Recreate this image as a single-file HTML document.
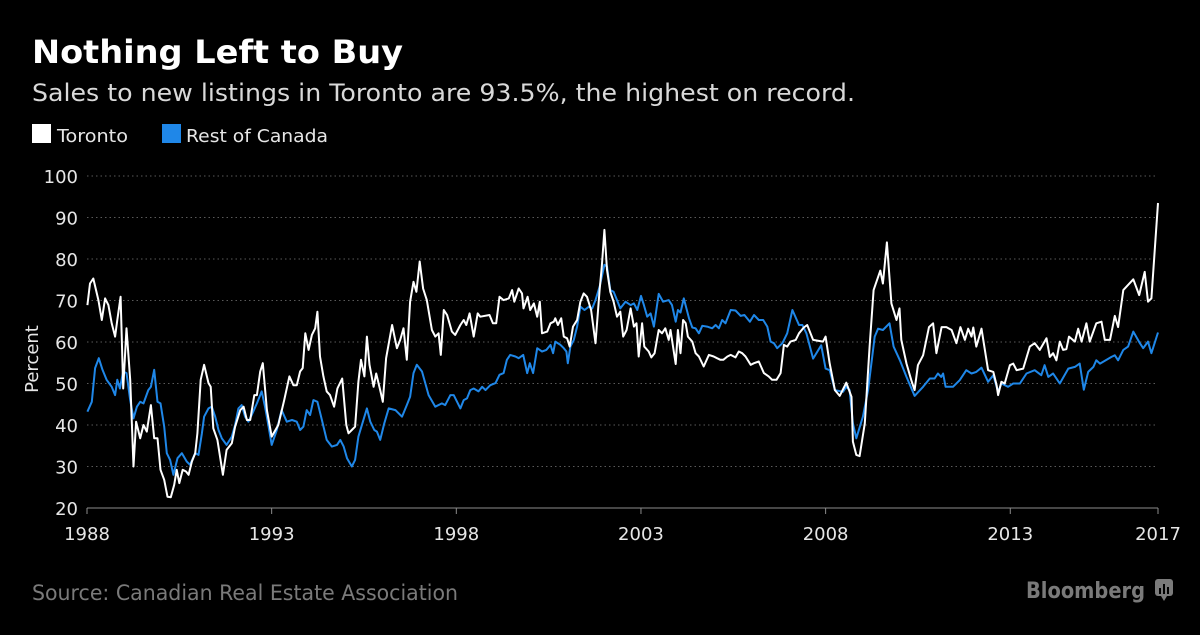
<!DOCTYPE html>
<html><head><meta charset="utf-8"><style>
html,body{margin:0;padding:0;background:#000;}
svg{display:block;}
text{font-family:"DejaVu Sans","Liberation Sans",sans-serif;}
</style></head><body>
<svg id="chart" width="1200" height="635" viewBox="0 0 1200 635" xmlns="http://www.w3.org/2000/svg">
<rect width="1200" height="635" fill="#000"/>
<text x="32" y="63" fill="#fff" font-size="32" font-weight="bold" textLength="371" lengthAdjust="spacingAndGlyphs">Nothing Left to Buy</text>
<text x="32" y="101" fill="#d9d9d9" font-size="24" textLength="823" lengthAdjust="spacingAndGlyphs">Sales to new listings in Toronto are 93.5%, the highest on record.</text>
<g>
<g>
<rect x="32" y="124" width="19" height="19" fill="#fff"/>
<text x="57" y="142" fill="#e6e6e6" font-size="18" textLength="71" lengthAdjust="spacingAndGlyphs">Toronto</text>
</g>
<g>
<rect x="162" y="124" width="19" height="19" fill="#1f87e8"/>
<text x="186" y="142" fill="#e6e6e6" font-size="18" textLength="142" lengthAdjust="spacingAndGlyphs">Rest of Canada</text>
</g>
</g>
<g id="grid"></g>
<g id="yaxis"></g>
<g id="xaxis"></g>
<text transform="translate(38,359) rotate(-90)" text-anchor="middle" fill="#e6e6e6" font-size="18">Percent</text>
<g id="series"></g>
<text x="32" y="600" fill="#7a7a7a" font-size="21" textLength="426" lengthAdjust="spacingAndGlyphs">Source: Canadian Real Estate Association</text>
<text x="1026" y="598" fill="#7a7a7a" font-size="22" font-weight="bold" textLength="119" lengthAdjust="spacingAndGlyphs">Bloomberg</text>
<g>
<rect x="1155" y="579" width="18" height="17" rx="3" fill="#7a7a7a"/>
<path d="M1161 596 L1164 601 L1167 596 Z" fill="#7a7a7a"/>
<rect x="1159" y="588" width="2" height="6" fill="#000"/>
<rect x="1163" y="584" width="2" height="10" fill="#000"/>
<rect x="1167" y="587" width="2" height="7" fill="#000"/>
</g>
</svg>
<script>
const yTicks = [20,30,40,50,60,70,80,90,100];
const xTicks = [1988,1993,1998,2003,2008,2013,2017];
const torontoDates = [1988.01,1988.08,1988.17,1988.31,1988.40,1988.49,1988.58,1988.67,1988.76,1988.82,1988.91,1988.98,1989.07,1989.17,1989.26,1989.33,1989.44,1989.53,1989.62,1989.73,1989.82,1989.91,1989.99,1990.09,1990.18,1990.27,1990.36,1990.43,1990.50,1990.59,1990.68,1990.75,1990.84,1990.93,1990.99,1991.08,1991.17,1991.29,1991.35,1991.42,1991.53,1991.68,1991.78,1991.92,1992.01,1992.15,1992.24,1992.33,1992.42,1992.53,1992.60,1992.69,1992.76,1992.87,1993.00,1993.18,1993.34,1993.48,1993.59,1993.68,1993.77,1993.84,1993.91,1994.00,1994.09,1994.18,1994.24,1994.31,1994.40,1994.49,1994.58,1994.69,1994.78,1994.91,1995.02,1995.08,1995.17,1995.26,1995.35,1995.42,1995.51,1995.58,1995.65,1995.76,1995.83,1995.94,1996.01,1996.10,1996.26,1996.39,1996.48,1996.57,1996.66,1996.75,1996.84,1996.92,1997.01,1997.10,1997.20,1997.34,1997.43,1997.52,1997.58,1997.66,1997.75,1997.88,1997.97,1998.11,1998.20,1998.27,1998.36,1998.47,1998.58,1998.65,1998.90,1998.99,1999.08,1999.17,1999.28,1999.42,1999.51,1999.57,1999.69,1999.78,1999.82,1999.93,2000.00,2000.10,2000.19,2000.26,2000.32,2000.46,2000.55,2000.64,2000.68,2000.75,2000.84,2000.91,2001.00,2001.07,2001.16,2001.27,2001.36,2001.45,2001.54,2001.65,2001.77,2001.88,2001.94,2002.01,2002.08,2002.17,2002.26,2002.35,2002.44,2002.52,2002.61,2002.72,2002.81,2002.88,2002.94,2003.03,2003.09,2003.21,2003.28,2003.37,2003.48,2003.57,2003.66,2003.75,2003.80,2003.94,2004.00,2004.07,2004.14,2004.21,2004.27,2004.39,2004.48,2004.57,2004.70,2004.84,2004.97,2005.06,2005.15,2005.23,2005.34,2005.43,2005.56,2005.65,2005.74,2005.83,2005.97,2006.06,2006.19,2006.33,2006.46,2006.55,2006.67,2006.78,2006.87,2006.96,2007.05,2007.19,2007.28,2007.41,2007.50,2007.66,2007.93,2008.00,2008.11,2008.25,2008.38,2008.56,2008.70,2008.74,2008.83,2008.92,2009.06,2009.19,2009.30,2009.48,2009.55,2009.66,2009.78,2009.92,2010.00,2010.05,2010.19,2010.32,2010.41,2010.50,2010.64,2010.80,2010.91,2011.00,2011.14,2011.27,2011.41,2011.54,2011.65,2011.77,2011.86,2011.95,2012.00,2012.08,2012.22,2012.40,2012.54,2012.63,2012.67,2012.76,2012.85,2012.99,2013.08,2013.17,2013.35,2013.53,2013.66,2013.80,2013.98,2014.07,2014.16,2014.25,2014.34,2014.43,2014.52,2014.59,2014.75,2014.84,2014.93,2015.06,2015.15,2015.33,2015.47,2015.56,2015.70,2015.83,2015.92,2016.06,2016.33,2016.49,2016.64,2016.73,2016.82,2017.00];
const torontoValues = [68.9,74.1,75.3,70.1,65.3,70.5,68.9,64.5,61.3,65.3,70.9,48.8,63.3,50.9,30.0,40.8,36.8,40.0,38.4,44.8,36.8,36.8,29.2,26.8,22.7,22.6,25.6,29.2,26.0,29.2,28.8,28.0,31.2,33.2,38.0,50.9,54.5,50.1,49.2,39.2,36.4,28.0,34.0,35.6,39.6,43.6,44.4,41.2,41.2,47.2,47.2,52.9,54.9,43.6,37.2,40.0,46.0,51.7,49.6,49.6,52.9,53.7,62.1,58.1,61.7,63.3,67.3,56.5,51.7,48.1,47.2,44.4,48.8,51.2,40.0,38.0,38.8,39.6,50.4,55.7,51.7,61.3,54.5,49.2,52.4,48.4,45.6,56.1,64.1,58.5,60.5,63.3,55.7,69.7,74.5,72.1,79.4,72.9,70.1,62.9,61.3,62.1,56.9,67.7,66.5,62.5,61.7,64.1,65.3,64.1,66.9,61.3,66.9,66.1,66.5,64.5,64.5,70.9,70.1,70.5,72.5,69.7,72.9,71.7,68.1,70.9,67.7,69.3,66.1,69.7,62.1,62.5,64.5,64.9,65.7,64.1,65.7,61.3,60.9,58.9,63.7,65.3,69.7,71.7,70.9,67.7,59.7,72.5,78.2,87.0,77.4,72.1,69.7,66.1,67.3,61.3,62.9,68.1,63.7,64.5,56.5,64.5,58.9,57.7,56.3,57.3,62.9,62.1,63.3,60.5,62.9,54.7,62.9,57.3,65.3,64.5,61.3,60.1,57.3,56.5,54.1,56.9,56.5,56.1,55.7,55.7,56.5,56.9,56.3,57.7,57.3,56.5,54.5,54.9,55.3,52.5,51.7,50.9,50.9,52.5,59.3,58.9,60.1,60.5,62.1,63.5,64.1,60.5,60.1,61.3,54.8,48.4,47.0,50.2,46.8,36.0,32.8,32.5,40.4,58.9,72.5,77.2,74.1,84.0,69.3,65.3,68.1,60.5,54.8,50.8,48.4,54.4,56.8,63.6,64.5,57.3,63.6,63.6,62.9,59.7,63.6,60.5,63.2,61.3,63.5,58.9,63.2,53.2,52.8,49.6,47.2,50.4,50.0,54.4,54.8,53.2,53.6,58.9,59.7,58.1,60.9,56.4,57.3,55.6,60.1,58.1,58.3,61.3,60.1,63.2,60.1,64.5,60.1,64.5,64.9,60.5,60.5,66.3,63.6,72.5,75.1,71.3,76.9,69.7,70.5,93.5];
const canadaDates = [1988.01,1988.13,1988.22,1988.32,1988.42,1988.53,1988.67,1988.76,1988.82,1988.89,1988.98,1989.07,1989.17,1989.26,1989.35,1989.44,1989.53,1989.66,1989.73,1989.82,1989.91,1989.99,1990.09,1990.16,1990.25,1990.34,1990.45,1990.57,1990.70,1990.79,1990.93,1991.02,1991.11,1991.17,1991.29,1991.38,1991.47,1991.56,1991.65,1991.78,1991.92,1992.01,1992.10,1992.19,1992.28,1992.37,1992.46,1992.60,1992.73,1992.82,1992.91,1993.00,1993.14,1993.27,1993.41,1993.55,1993.68,1993.77,1993.86,1993.95,1994.04,1994.13,1994.24,1994.36,1994.49,1994.63,1994.77,1994.86,1994.95,1995.04,1995.17,1995.26,1995.35,1995.47,1995.58,1995.67,1995.78,1995.85,1995.94,1996.05,1996.17,1996.35,1996.53,1996.66,1996.75,1996.84,1996.93,1997.07,1997.25,1997.43,1997.61,1997.70,1997.84,1997.93,1998.11,1998.20,1998.29,1998.38,1998.47,1998.60,1998.70,1998.79,1998.92,1999.06,1999.17,1999.28,1999.37,1999.46,1999.60,1999.69,1999.81,1999.92,1999.99,2000.08,2000.19,2000.32,2000.44,2000.55,2000.62,2000.68,2000.82,2000.91,2000.98,2001.02,2001.09,2001.18,2001.27,2001.36,2001.47,2001.59,2001.68,2001.77,2001.88,2002.01,2002.08,2002.17,2002.26,2002.35,2002.44,2002.58,2002.72,2002.81,2002.90,2003.00,2003.08,2003.17,2003.26,2003.35,2003.48,2003.60,2003.75,2003.84,2003.94,2004.00,2004.07,2004.16,2004.30,2004.39,2004.48,2004.57,2004.66,2004.79,2004.93,2005.02,2005.11,2005.20,2005.29,2005.43,2005.56,2005.70,2005.80,2005.95,2006.06,2006.19,2006.31,2006.42,2006.51,2006.60,2006.69,2006.83,2006.96,2007.10,2007.28,2007.37,2007.48,2007.66,2007.88,2008.00,2008.11,2008.25,2008.47,2008.56,2008.65,2008.74,2008.83,2009.01,2009.15,2009.33,2009.42,2009.55,2009.73,2009.84,2010.01,2010.19,2010.41,2010.64,2010.82,2010.95,2011.04,2011.13,2011.18,2011.25,2011.45,2011.63,2011.81,2011.95,2012.08,2012.22,2012.40,2012.54,2012.67,2012.76,2012.94,2013.08,2013.26,2013.44,2013.66,2013.84,2013.93,2014.03,2014.16,2014.34,2014.57,2014.75,2014.88,2014.99,2015.11,2015.25,2015.33,2015.43,2015.74,2015.83,2015.92,2016.06,2016.19,2016.33,2016.51,2016.60,2016.73,2016.82,2017.00];
const canadaValues = [43.2,45.6,53.7,56.1,53.3,50.9,49.2,47.2,50.9,48.8,52.9,52.5,46.0,41.6,44.4,45.6,45.2,48.4,49.2,53.3,45.6,45.2,39.6,33.2,31.6,28.0,32.0,33.2,31.2,30.4,33.2,32.8,38.0,42.0,44.0,44.4,42.0,38.8,36.8,35.2,37.2,40.0,44.0,44.8,42.0,40.8,42.4,45.2,48.1,44.4,40.0,35.2,38.8,43.6,40.8,41.2,40.8,38.8,39.6,43.6,42.4,46.0,45.6,41.2,36.4,34.8,35.2,36.4,34.8,32.0,30.0,31.6,37.2,40.8,44.0,40.8,38.8,38.4,36.4,40.4,44.0,43.6,42.0,44.8,46.8,52.5,54.5,52.9,47.2,44.4,45.2,44.8,47.2,47.2,44.0,46.0,46.4,48.4,48.8,48.1,49.2,48.4,49.6,50.1,52.1,52.5,55.7,56.9,56.5,56.1,56.9,52.5,54.9,52.5,58.5,57.7,58.1,59.3,57.3,60.1,59.3,58.5,57.7,54.9,58.9,60.5,63.7,68.5,67.7,68.5,68.1,70.1,73.3,78.6,78.2,72.5,72.1,70.1,68.1,69.7,68.9,69.3,67.7,71.1,68.9,66.1,66.9,63.7,71.6,69.7,70.1,68.9,64.9,67.7,67.1,70.5,65.7,63.5,63.3,62.1,63.9,63.7,63.3,64.1,63.3,65.3,64.5,67.7,67.6,66.3,66.5,64.9,66.5,65.3,65.3,63.7,60.1,59.7,58.5,59.7,62.1,67.7,64.1,64.1,62.1,56.0,59.2,53.6,53.2,48.4,48.0,49.2,48.4,40.4,36.8,42.0,48.4,61.3,63.2,62.9,64.5,58.9,55.6,51.6,47.0,49.2,51.2,51.2,52.4,51.6,52.4,49.2,49.2,50.8,53.2,52.4,52.8,53.8,50.4,52.0,48.0,50.0,49.2,50.0,50.0,52.4,53.2,52.0,54.4,51.6,52.4,50.0,53.6,54.0,54.8,48.5,52.8,54.0,55.6,54.8,56.4,56.8,55.6,58.1,58.9,62.5,59.7,58.5,60.1,57.3,62.3];

const X0 = 87, X1 = 1158, Y0 = 508, Y1 = 176;
const xScale = v => X0 + (v - 1988) / (2017 - 1988) * (X1 - X0);
const yScale = v => Y0 - (v - 20) / (100 - 20) * (Y0 - Y1);
const NS = 'http://www.w3.org/2000/svg';
const mk = (tag, attrs, parent) => { const e = document.createElementNS(NS, tag); for (const k in attrs) e.setAttribute(k, attrs[k]); parent.appendChild(e); return e; };

const grid = document.getElementById('grid');
const yaxis = document.getElementById('yaxis');
yTicks.forEach(t => {
  if (t > 20) {
    const g = mk('line', {x1: X0, x2: X1, y1: yScale(t), y2: yScale(t), stroke: '#5a5a5a', 'stroke-width': 1, 'stroke-dasharray': '1.5,3'}, grid);
    
    
  }
  const lb = mk('text', {x: 78, y: yScale(t) + 7, 'text-anchor': 'end', fill: '#e6e6e6', 'font-size': 18}, yaxis);
  lb.textContent = t;
  
  
});

const xaxis = document.getElementById('xaxis');
const base = mk('line', {x1: X0, x2: X1, y1: Y0, y2: Y0, stroke: '#8c8c8c', 'stroke-width': 1}, xaxis);


xTicks.forEach(t => {
  const tk = mk('line', {x1: xScale(t), x2: xScale(t), y1: Y0, y2: Y0 + 6, stroke: '#8c8c8c', 'stroke-width': 1}, xaxis);
  
  
  const lb = mk('text', {x: xScale(t), y: 540, 'text-anchor': 'middle', fill: '#e6e6e6', 'font-size': 18}, xaxis);
  lb.textContent = t;
  
  
});

const series = document.getElementById('series');
const pathFor = (ds, vs) => ds.map((d, i) => (i ? 'L' : 'M') + xScale(d).toFixed(1) + ' ' + yScale(vs[i]).toFixed(1)).join(' ');
const canada = mk('path', {d: pathFor(canadaDates, canadaValues), fill: 'none', stroke: '#1f87e8', 'stroke-width': 2, 'stroke-linejoin': 'round'}, series);


const toronto = mk('path', {d: pathFor(torontoDates, torontoValues), fill: 'none', stroke: '#ffffff', 'stroke-width': 2, 'stroke-linejoin': 'round'}, series);


</script>
</body></html>
